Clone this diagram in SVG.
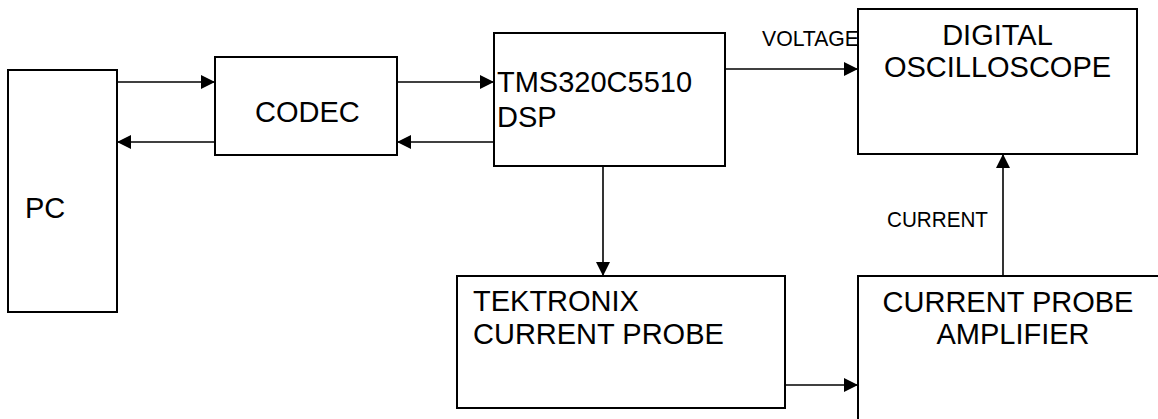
<svg xmlns="http://www.w3.org/2000/svg" width="1158" height="419" viewBox="0 0 1158 419">
<style>
.box{fill:#fff;stroke:#000;stroke-width:2}
.lbl{font-family:"Liberation Sans",Arial,sans-serif;font-size:29px;fill:#000}
.sm{font-family:"Liberation Sans",Arial,sans-serif;font-size:22px;fill:#000}
.c{stroke:#000;stroke-width:1.6;fill:none;marker-end:url(#ah)}
</style>
<defs>
<marker id="ah" viewBox="0 0 14 14" refX="14" refY="7" markerWidth="14" markerHeight="14" markerUnits="userSpaceOnUse" orient="auto">
<path d="M0,0 L14,7 L0,14 Z" fill="#000"/>
</marker>
</defs>
<rect width="1158" height="419" fill="#fff"/>
<g id="pc"><rect class="box" x="8" y="70" width="109" height="242"/><text class="lbl" x="25" y="218">PC</text></g>
<g id="codec"><rect class="box" x="215" y="57" width="182" height="98"/><text class="lbl" x="255" y="122">CODEC</text></g>
<g id="dsp"><rect class="box" x="494" y="33" width="231" height="133"/><text class="lbl" x="497" y="92">TMS320C5510</text><text class="lbl" x="497" y="127">DSP</text></g>
<g id="osc"><rect class="box" x="858" y="9" width="279" height="145"/><text class="lbl" x="997.5" y="45" text-anchor="middle">DIGITAL</text><text class="lbl" x="997.5" y="77" text-anchor="middle">OSCILLOSCOPE</text></g>
<g id="probe"><rect class="box" x="457" y="276" width="328" height="132"/><text class="lbl" x="473" y="311">TEKTRONIX</text><text class="lbl" x="473" y="344">CURRENT PROBE</text></g>
<g id="amp"><rect class="box" x="858" y="276" width="320" height="200"/><text class="lbl" x="1008" y="312" text-anchor="middle">CURRENT PROBE</text><text class="lbl" x="1013" y="344" text-anchor="middle">AMPLIFIER</text></g>
<g id="connectors">
<line class="c" x1="117" y1="82" x2="215" y2="82"/>
<line class="c" x1="215" y1="142" x2="117" y2="142"/>
<line class="c" x1="397" y1="82" x2="494" y2="82"/>
<line class="c" x1="494" y1="142" x2="397" y2="142"/>
<line class="c" x1="725" y1="69" x2="858" y2="69"/>
<line class="c" x1="603" y1="166" x2="603" y2="276"/>
<line class="c" x1="785" y1="385" x2="858" y2="385"/>
<line class="c" x1="1003" y1="276" x2="1003" y2="154"/>
<text class="sm" x="762" y="46" textLength="97" lengthAdjust="spacingAndGlyphs">VOLTAGE</text>
<text class="sm" x="887" y="227" textLength="101" lengthAdjust="spacingAndGlyphs">CURRENT</text>
</g>
</svg>
